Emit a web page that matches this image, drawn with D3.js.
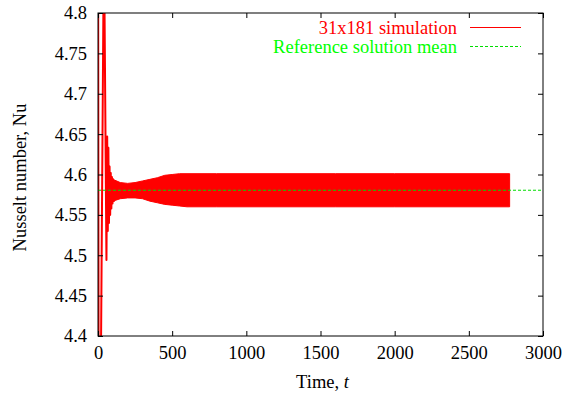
<!DOCTYPE html>
<html>
<head>
<meta charset="utf-8">
<script src="https://cdn.jsdelivr.net/npm/d3@7"></script>
<style>
  html, body { margin: 0; padding: 0; background: #fff; }
  svg { display: block; }
</style>
</head>
<body>
<svg id="chart" width="563" height="397"></svg>
<script>
// ---- Data ----
const xTicks = [0, 500, 1000, 1500, 2000, 2500, 3000];
const yTicks = [4.4, 4.45, 4.5, 4.55, 4.6, 4.65, 4.7, 4.75, 4.8];
const yTickLabels = ["4.4", "4.45", "4.5", "4.55", "4.6", "4.65", "4.7", "4.75", "4.8"];

// early transient, individual oscillations (peaks/troughs)
const transientT  = [0, 5, 17, 40, 57, 62, 66, 70, 74, 78, 82, 86, 90, 94, 98, 102, 106];
const transientNu = [5.0, 4.2, 4.3, 4.9, 4.494, 4.647, 4.53, 4.633, 4.54, 4.61, 4.55, 4.602, 4.558, 4.597, 4.564, 4.594, 4.566];

// envelope of the fast oscillation afterwards
const envT  = [100, 150, 200, 250, 300, 350, 400, 450, 500, 550, 600, 800, 1200, 1600, 2000, 2400, 2775];
const envHi = [4.594, 4.590, 4.589, 4.590, 4.592, 4.594, 4.596, 4.599, 4.600, 4.601, 4.601, 4.601, 4.601, 4.601, 4.601, 4.601, 4.601];
const envLo = [4.567, 4.570, 4.571, 4.571, 4.570, 4.567, 4.565, 4.563, 4.562, 4.561, 4.560, 4.560, 4.560, 4.560, 4.560, 4.560, 4.560];

const refMean = 4.5805;

const seriesNames = ["31x181 simulation", "Reference solution mean"];

// ---- Layout ----
const FONT = '"Liberation Serif", "Times New Roman", Times, serif';
const svg = d3.select("#chart");
const L = 98, R = 543, T = 13, B = 336;
const x = d3.scaleLinear().domain([0, 3000]).range([L, R]);
const y = d3.scaleLinear().domain([4.4, 4.8]).range([B, T]);

svg.append("defs").append("clipPath").attr("id", "clip")
  .append("rect").attr("x", L).attr("y", T).attr("width", R - L).attr("height", B - T);

const plot = svg.append("g").attr("clip-path", "url(#clip)");

// envelope band
const envData = envT.map((t, i) => ({ t, hi: envHi[i], lo: envLo[i] }));
plot.append("path")
  .datum(envData)
  .attr("fill", "#ff0000")
  .attr("stroke", "#ff0000")
  .attr("stroke-width", 1)
  .attr("d", d3.area().x(d => x(d.t)).y0(d => y(d.lo)).y1(d => y(d.hi)));

// transient line
const trData = transientT.map((t, i) => ({ t, v: transientNu[i] }));
plot.append("path")
  .datum(trData)
  .attr("fill", "none")
  .attr("stroke", "#ff0000")
  .attr("stroke-width", 2)
  .attr("stroke-linejoin", "round")
  .attr("d", d3.line().x(d => x(d.t)).y(d => y(d.v)));

// reference mean line
plot.append("line")
  .attr("x1", L).attr("x2", R)
  .attr("y1", y(refMean)).attr("y2", y(refMean))
  .attr("stroke", "#00dd00")
  .attr("stroke-width", 1)
  .attr("stroke-dasharray", "3,2");

// ---- Axes (gnuplot style: inward ticks, mirrored) ----
const tickLen = 5;
const axisColor = "#000";
const fs = 18.5;

const gx = svg.append("g").attr("transform", `translate(0,${B})`)
  .call(d3.axisBottom(x).tickValues(xTicks).tickSizeInner(-tickLen).tickSizeOuter(0).tickPadding(10).tickFormat(d3.format("d")));
const gxTop = svg.append("g").attr("transform", `translate(0,${T})`)
  .call(d3.axisTop(x).tickValues(xTicks).tickSizeInner(-tickLen).tickSizeOuter(0).tickFormat(""));
const gy = svg.append("g").attr("transform", `translate(${L},0)`)
  .call(d3.axisLeft(y).tickValues(yTicks).tickSizeInner(-tickLen).tickSizeOuter(0).tickPadding(11)
    .tickFormat((d, i) => yTickLabels[i]));
const gyR = svg.append("g").attr("transform", `translate(${R},0)`)
  .call(d3.axisRight(y).tickValues(yTicks).tickSizeInner(-tickLen).tickSizeOuter(0).tickFormat(""));

[gx, gxTop, gy, gyR].forEach(g => {
  g.attr("font-family", FONT).attr("font-size", fs);
  g.select(".domain").remove();
  g.selectAll(".tick line").attr("stroke", axisColor);
  g.selectAll("text").attr("fill", "#000").style("font-family", FONT).style("font-size", fs + "px");
});
gx.selectAll("text").attr("dy", "0.68em");

// border
svg.append("rect")
  .attr("x", L).attr("y", T).attr("width", R - L).attr("height", B - T)
  .attr("fill", "none").attr("stroke", axisColor).attr("stroke-width", 1);

// ---- Axis titles ----
const xt = svg.append("text")
  .attr("x", (L + R) / 2 + 2).attr("y", 388)
  .attr("text-anchor", "middle").style("font-family", FONT).style("font-size", fs + "px");
xt.append("tspan").text("Time, ");
xt.append("tspan").attr("font-style", "italic").text("t");

svg.append("text")
  .attr("transform", `translate(26,${(T + B) / 2 + 3}) rotate(-90)`)
  .attr("text-anchor", "middle").style("font-family", FONT).style("font-size", fs + "px")
  .text("Nusselt number, Nu");

// ---- Legend ----
const legend = svg.append("g");
legend.append("text").attr("x", 457).attr("y", 34).attr("text-anchor", "end")
  .style("font-family", FONT).style("font-size", fs + "px").attr("fill", "#ff0000").text(seriesNames[0]);
legend.append("line").attr("x1", 470).attr("x2", 521).attr("y1", 27.5).attr("y2", 27.5)
  .attr("stroke", "#ff0000").attr("stroke-width", 1);
legend.append("text").attr("x", 457).attr("y", 52.5).attr("text-anchor", "end")
  .style("font-family", FONT).style("font-size", fs + "px").attr("fill", "#00ff00").text(seriesNames[1]);
legend.append("line").attr("x1", 470).attr("x2", 521).attr("y1", 46.5).attr("y2", 46.5)
  .attr("stroke", "#00dd00").attr("stroke-width", 1).attr("stroke-dasharray", "3,2");
</script>
</body>
</html>
